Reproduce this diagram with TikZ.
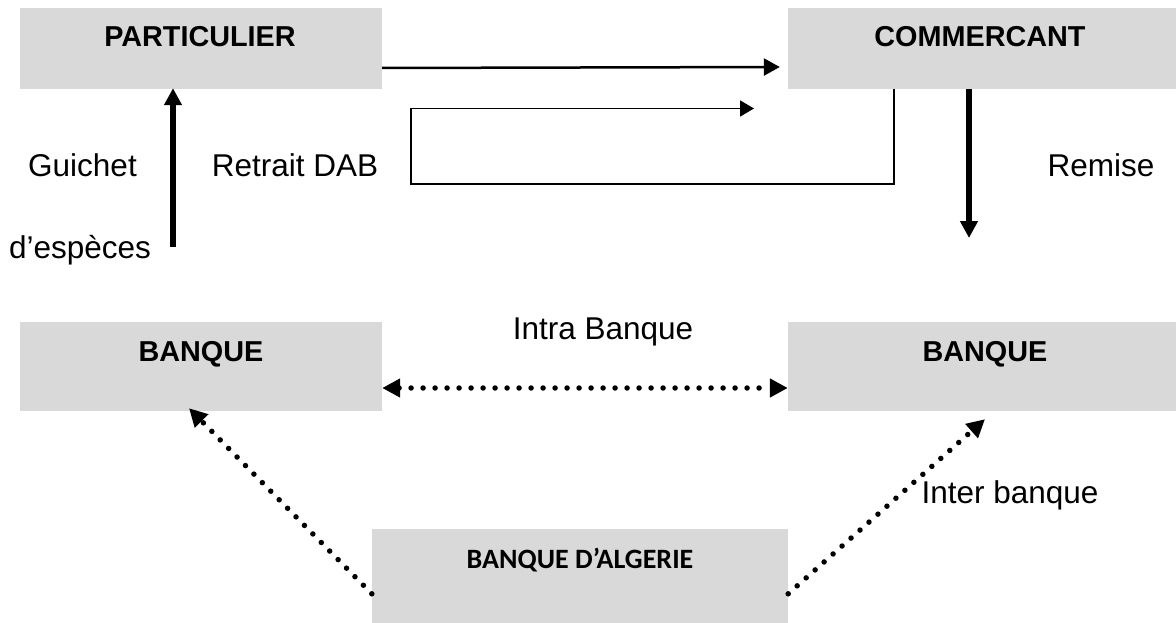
\documentclass[tikz,border=0pt]{standalone}
\usepackage{fontspec}
\setmainfont{Liberation Sans}
\newfontfamily\calfont{Carlito}
\usetikzlibrary{arrows.meta}
\definecolor{boxgray}{HTML}{D9D9D9}
\begin{document}
\begin{tikzpicture}[x=1pt,y=-1pt,
  box/.style={fill=boxgray, draw=none, inner sep=0pt},
  title/.style={font=\fontsize{28.8}{30}\selectfont\bfseries, inner sep=0pt, anchor=base},
  lbl/.style={font=\fontsize{31.5}{33}\selectfont, inner sep=0pt, anchor=base},
  thinarrow/.style={line width=2.5pt, -{Triangle[length=16pt,width=17pt]}},
  loopline/.style={line width=1.8pt, -{Triangle[length=14pt,width=16pt]}},
  thickarrow/.style={line width=6pt, -{Triangle[length=17pt,width=17pt]}},
  dotline/.style={line width=5.5pt, line cap=round, dash pattern=on 0pt off 12pt},
  dtip/.tip={Triangle[length=18pt,width=18pt]}]
\useasboundingbox (0,0) rectangle (1176,623);
% boxes
\node[box, minimum width=362pt, minimum height=81pt] (part) at (201,48.5) {};
\node[box, minimum width=388pt, minimum height=81pt] (comm) at (982,48.5) {};
\node[box, minimum width=362pt, minimum height=89pt] (bankL) at (201,366.5) {};
\node[box, minimum width=388pt, minimum height=89pt] (bankR) at (982,366.5) {};
\node[box, minimum width=416pt, minimum height=94pt] (ba) at (580,576) {};
% titles
\node[title] (tpart) at (200,47) {PARTICULIER};
\node[title] (tcomm) at (980,47) {COMMERCANT};
\node[title] (tbankL) at (201,361) {BANQUE};
\node[title] (tbankR) at (985,361) {BANQUE};
\node[inner sep=0pt, anchor=base, font=\calfont\fontsize{28}{30}\selectfont\bfseries] (tba) at (580,568) {BANQUE D’ALGERIE};
% labels
\node[lbl] (lguichet) at (82.5,176) {Guichet};
\node[lbl] (lesp) at (80,258) {d’espèces};
\node[lbl] (lretrait) at (295,176) {Retrait DAB};
\node[lbl] (lremise) at (1101,176) {Remise};
\node[lbl] (lintra) at (603,339) {Intra Banque};
\node[lbl] (linter) at (1010,503) {Inter banque};
% coordinates
\coordinate (lc1) at (411,184);
\coordinate (lc2) at (754,108.5);
\coordinate (remEnd) at (969,238);
\coordinate (guiStart) at (173,247);
% connectors
\draw[thinarrow] ([yshift=-19.5pt]part.east) -- ([yshift=-18.5pt,xshift=-8pt]comm.west);
\draw[loopline] ([xshift=-88pt]comm.south) |- (lc1) |- (lc2);
\draw[thickarrow] ([xshift=-13pt]comm.south) -- (remEnd);
\draw[thickarrow] (guiStart) -- ([xshift=-28pt,yshift=1pt]part.south);
\draw[dotline, dtip-dtip]
  ([yshift=-21.5pt]bankL.east) -- ([yshift=-21.5pt]bankR.west);
\draw[dotline, -dtip]
  ([yshift=-65pt]ba.north west) -- ([xshift=-12pt,yshift=3pt]bankL.south);
\draw[dotline, -dtip]
  ([yshift=-65pt]ba.north east) -- ([xshift=3pt,yshift=-8pt]bankR.south);
\end{tikzpicture}
\end{document}
